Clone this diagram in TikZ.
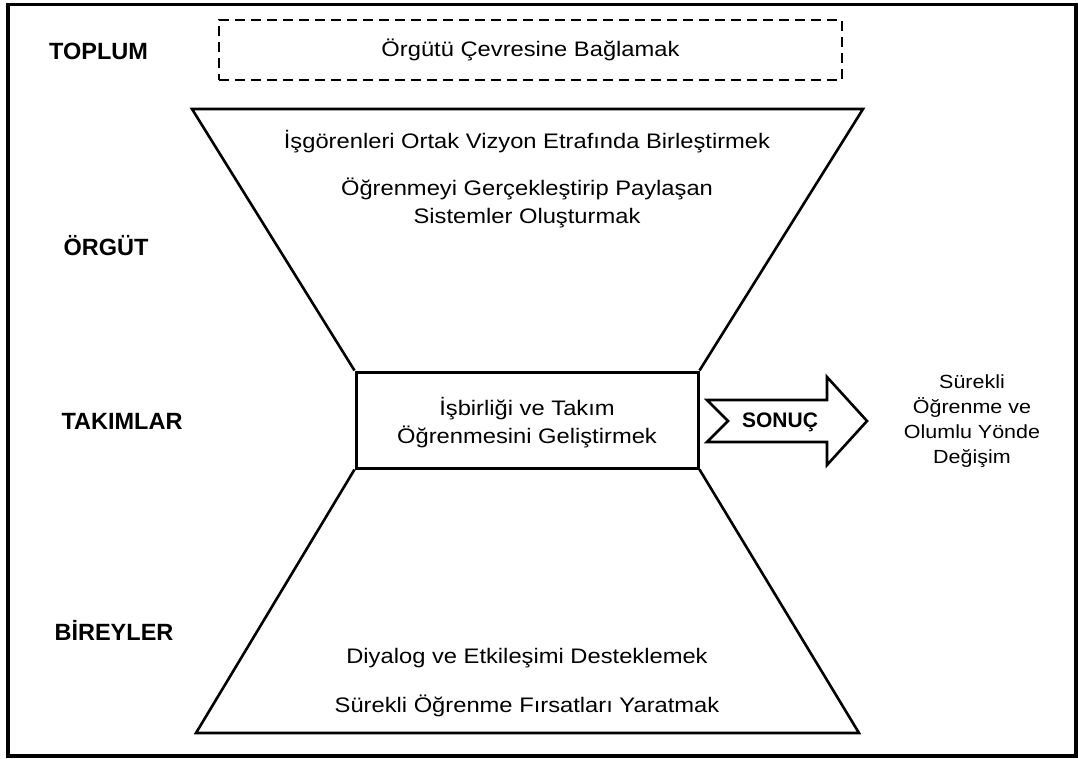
\documentclass[tikz,border=0pt]{standalone}
\usepackage{fontspec}
\setmainfont{Liberation Sans}
\newfontfamily\bodyfont[FakeStretch=1.13]{Liberation Sans}
\begin{document}
\begin{tikzpicture}[x=1pt,y=-1pt,
  level/.style={font=\fontsize{23.5}{28}\selectfont\bfseries, inner sep=0pt},
  body/.style={font=\bodyfont\fontsize{21}{28}\selectfont, align=center, inner sep=0pt},
  side/.style={font=\bodyfont\fontsize{19}{25}\selectfont, align=center, inner sep=0pt},
  shape line/.style={line width=2.6pt, line join=miter},
]
\useasboundingbox (0,0) rectangle (1078,758);

% outer frame
\draw[line width=3.5pt] (8,4.5) rectangle (1076,756);

% level labels
\node[level] (toplum)   at (98.5,51) {TOPLUM};
\node[level] (orgut)    at (106,246) {ÖRGÜT};
\node[level] (takimlar) at (122,421) {TAKIMLAR};
\node[level] (bireyler) at (114,630) {BİREYLER};

% society level: dashed box
\node[draw, line width=2.2pt, dash pattern=on 10pt off 6pt,
      minimum width=623pt, minimum height=60pt, inner sep=0pt] (env) at (530.5,50) {};
\node[body] (envtxt) at (env.center) {Örgütü Çevresine Bağlamak};

% team level: central box
\node[draw, line width=3pt, minimum width=342pt, minimum height=96pt,
      inner sep=0pt] (team) at (527,420) {};
\node[body] (teamtxt) at ([yshift=-3pt]team.center) {İşbirliği ve Takım\\Öğrenmesini Geliştirmek};

% organisation level: upper trapezoid
\coordinate (ul) at (192,109);
\coordinate (ur) at (863,109);
\draw[shape line] (team.north west) -- (ul) -- (ur) -- (team.north east);
\node[body] (vision) at (527,142) {İşgörenleri Ortak Vizyon Etrafında Birleştirmek};
\node[body] (systems) at (527,203) {Öğrenmeyi Gerçekleştirip Paylaşan\\Sistemler Oluşturmak};

% individual level: lower trapezoid
\coordinate (ll) at (196,733);
\coordinate (lr) at (859,733);
\draw[shape line] (team.south west) -- (ll) -- (lr) -- (team.south east);
\node[body] (dialog) at (527,658) {Diyalog ve Etkileşimi Desteklemek};
\node[body] (chances) at (527,706) {Sürekli Öğrenme Fırsatları Yaratmak};

% result arrow
\coordinate (a1) at (707,400);
\coordinate (a2) at (827,400);
\coordinate (a3) at (827,377);
\coordinate (a4) at (867,421);
\coordinate (a5) at (827,465);
\coordinate (a6) at (827,442);
\coordinate (a7) at (707,442);
\coordinate (a8) at (728,421);
\draw[line width=2.6pt, line join=miter] (a1) -- (a2) -- (a3) -- (a4) -- (a5) -- (a6) -- (a7) -- (a8) -- cycle;
\node[font=\fontsize{21}{25}\selectfont\bfseries, inner sep=0pt] (sonuc) at (780,422) {SONUÇ};

% outcome
\node[side] (outcome) at (972,421) {Sürekli\\Öğrenme ve\\Olumlu Yönde\\Değişim};
\end{tikzpicture}
\end{document}
